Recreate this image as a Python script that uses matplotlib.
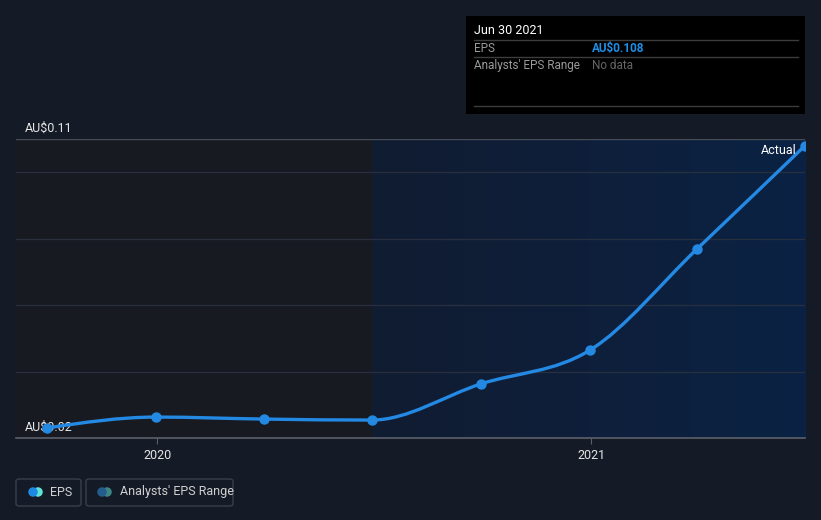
import matplotlib
matplotlib.use("Agg")
import matplotlib.pyplot as plt
import matplotlib.dates as mdates
from matplotlib.path import Path
from matplotlib.patches import PathPatch, FancyBboxPatch, Rectangle, Ellipse
import numpy as np
import pandas as pd

plt.rcParams['font.family'] = ['Roboto', 'DejaVu Sans']

# EPS history (AU$), quarterly
dates = ['2019-09-30', '2019-12-31', '2020-03-31', '2020-06-30',
         '2020-09-30', '2020-12-31', '2021-03-31', '2021-06-30']
eps = [0.0230, 0.0263, 0.0257, 0.0254, 0.0363, 0.0465, 0.0769, 0.108]
y_ticks = [0.02, 0.11]
y_tick_labels = ['AU$0.02', 'AU$0.11']
grid_vals = [0.04, 0.06, 0.08, 0.10]
x_ticks = ['2020-01-01', '2021-01-01']
x_tick_labels = ['2020', '2021']
forecast_start = '2020-06-30'

BG = '#151b26'
LINE = '#2389e3'

x = mdates.date2num(pd.to_datetime(dates))
y = np.array(eps)


def monotone_path(x, y):
    # d3 curveMonotoneX as cubic bezier path
    n = len(x)
    h = np.diff(x)
    s = np.diff(y) / h
    t = np.zeros(n)
    for i in range(1, n - 1):
        p = (s[i - 1] * h[i] + s[i] * h[i - 1]) / (h[i - 1] + h[i])
        t[i] = (np.sign(s[i - 1]) + np.sign(s[i])) * min(abs(s[i - 1]), abs(s[i]), 0.5 * abs(p))
    t[0] = (3 * s[0] - t[1]) / 2
    t[-1] = (3 * s[-1] - t[-2]) / 2
    verts = [(x[0], y[0])]
    codes = [Path.MOVETO]
    for i in range(n - 1):
        dx = h[i] / 3
        verts += [(x[i] + dx, y[i] + dx * t[i]), (x[i + 1] - dx, y[i + 1] - dx * t[i + 1]), (x[i + 1], y[i + 1])]
        codes += [Path.CURVE4] * 3
    return Path(verts, codes)


fig = plt.figure(figsize=(8.21, 5.20), dpi=100, facecolor=BG)
ax = fig.add_axes([16 / 821, 82 / 520, 789 / 821, 299 / 520])
ax.set_facecolor('#171a21')

x_left = mdates.date2num(pd.Timestamp('2019-09-04'))
x_right = x[-1]
ax.set_xlim(x_left, x_right)
ax.set_ylim(0.02, 0.11)

# forecast-side gradient
fs = mdates.date2num(pd.Timestamp(forecast_start))
grad = np.linspace(0, 1, 256).reshape(1, -1)
cmap = matplotlib.colors.LinearSegmentedColormap.from_list('g', ['#111c31', '#0b2244'])
ax.imshow(grad, extent=[fs, x_right, 0.02, 0.11], aspect='auto', cmap=cmap, zorder=0)

for g in grid_vals:
    ax.axhline(g, color='#283040', lw=0.9, zorder=1)
ax.axhline(0.11, color='#474c57', lw=1.0, zorder=1)

for sp in ax.spines.values():
    sp.set_visible(False)
ax.axhline(0.02, color='#5b606b', lw=1.2, zorder=2, clip_on=False)

ax.add_patch(PathPatch(monotone_path(x, y), fill=False, edgecolor=LINE, lw=2.4, zorder=3,
                       capstyle='round'))
ax.plot(x, y, 'o', color=LINE, ms=6.5, zorder=4)

ax.set_yticks([])
ax.set_xticks(mdates.date2num(pd.to_datetime(x_ticks)))
ax.set_xticklabels(x_tick_labels, color='#e6e6e6', fontsize=9)
ax.tick_params(axis='x', length=4, color='#5b606b', pad=4)

for v, lab in zip(y_ticks, y_tick_labels):
    ax.annotate(lab, xy=(0, v), xycoords=('axes fraction', 'data'), xytext=(9, 4),
                textcoords='offset pixels', color='#e6e6e6', fontsize=9, va='bottom', ha='left',
                zorder=2)

ax.annotate('Actual', xy=(x[-1], 0.11), xytext=(-8, -12), textcoords='offset pixels',
            color='white', fontsize=9, ha='right', va='center', zorder=5)

# tooltip
fig.patches.append(Rectangle((466 / 821, 1 - 114 / 520), 339 / 821, 98 / 520,
                             transform=fig.transFigure, facecolor='black', edgecolor='none'))
fig.text(474 / 821, 1 - 31 / 520, 'Jun 30 2021', color='white', fontsize=9, va='center')
for yy in (40, 57, 106):
    fig.add_artist(plt.Line2D([474 / 821, 798 / 821], [1 - yy / 520] * 2, color='#3d3d3d', lw=1))
fig.text(474 / 821, 1 - 48.5 / 520, 'EPS', color='#9a9a9a', fontsize=8.5, va='center')
fig.text(592 / 821, 1 - 48.5 / 520, 'AU$0.108', color='#1e8fe6', fontsize=8.5, va='center',
         fontweight='bold')
fig.text(474 / 821, 1 - 65.5 / 520, "Analysts' EPS Range", color='#9a9a9a', fontsize=8.5, va='center')
fig.text(592 / 821, 1 - 65.5 / 520, 'No data', color='#666666', fontsize=8.5, va='center')

# legend
for (x0, w) in ((16, 65), (86, 147)):
    fig.patches.append(FancyBboxPatch((x0 / 821, 1 - 506 / 520), w / 821, 27 / 520,
                                      boxstyle='round,pad=0,rounding_size=0.004',
                                      transform=fig.transFigure, facecolor='none',
                                      edgecolor='#3a404b', lw=1))


def dots(cx, c1, c2):
    for dx, c in ((5, c2), (0, c1)):
        fig.patches.append(Ellipse(((cx + dx) / 821, 1 - 492 / 520), 9.5 / 821, 9.5 / 520,
                                   transform=fig.transFigure, facecolor=c, edgecolor='none'))


dots(33, '#1e88e5', '#5fe3d6')
fig.text(50 / 821, 1 - 492 / 520, 'EPS', color='#d0d0d0', fontsize=9, va='center')
dots(102, '#235d8c', '#3e8683')
fig.text(120 / 821, 1 - 492 / 520, "Analysts' EPS Range", color='#d0d0d0', fontsize=9, va='center')

fig.savefig('out.png', dpi=100, facecolor=BG)
